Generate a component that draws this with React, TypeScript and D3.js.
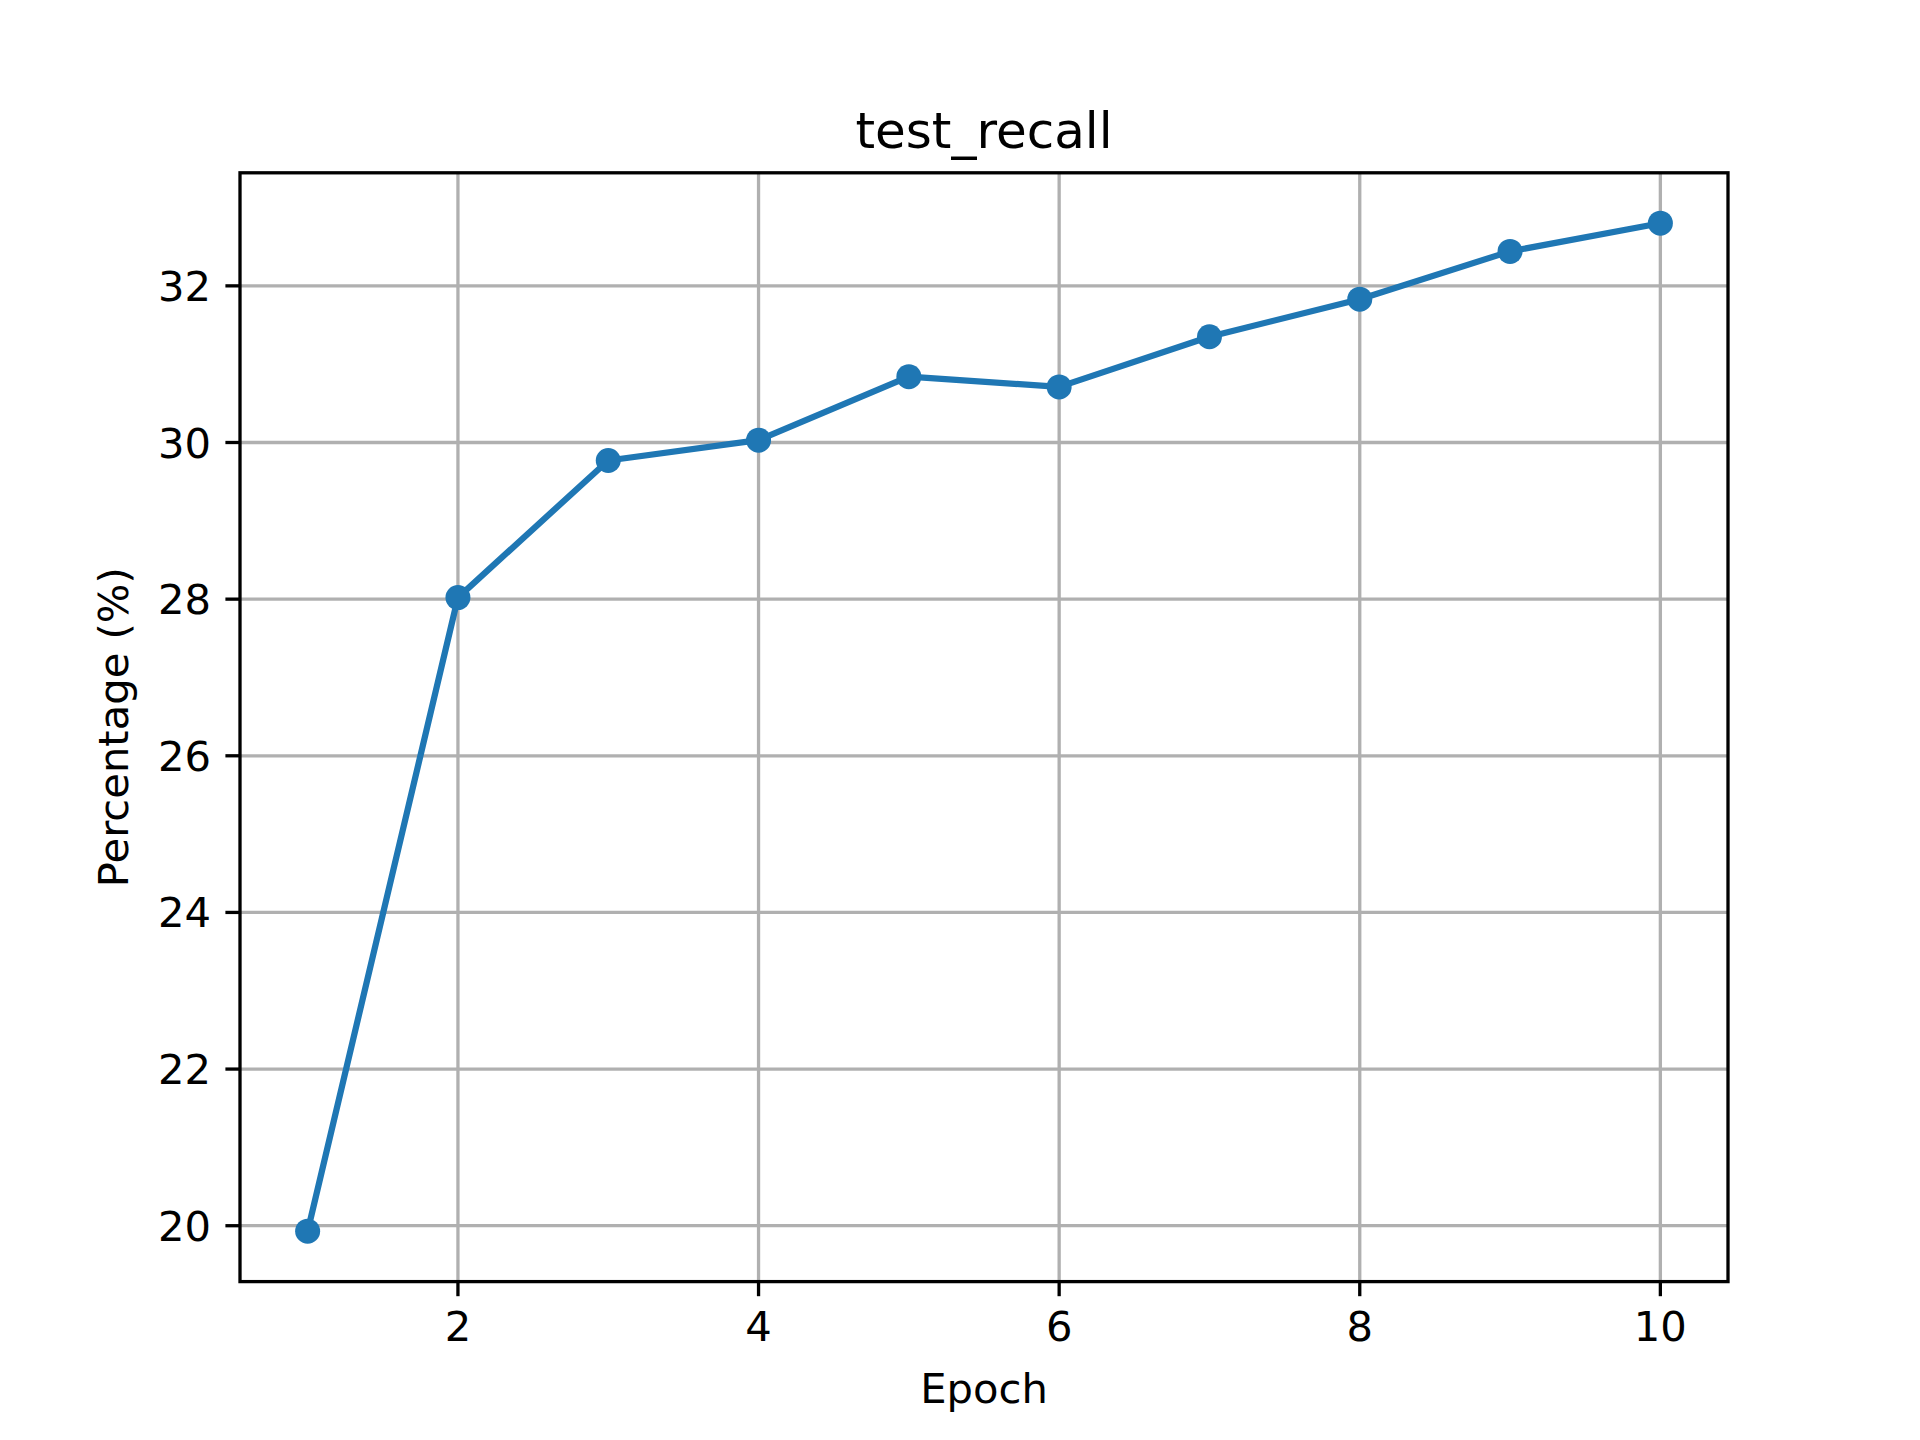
import * as d3 from 'd3';

const epochs = [1, 2, 3, 4, 5, 6, 7, 8, 9, 10];
const recall = [19.93, 28.02, 29.77, 30.03, 30.84, 30.71, 31.35, 31.83, 32.44, 32.8];
const xTicks = [2, 4, 6, 8, 10];
const yTicks = [20, 22, 24, 26, 28, 30, 32];

export default function App() {
  const W = 1920, H = 1440;
  const m = { left: 240, right: 1728, top: 172.8, bottom: 1281.6 };
  const font = 'DejaVu Sans, sans-serif';
  const fs = 41.7;

  const xPad = (10 - 1) * 0.05;
  const yMin = d3.min(recall)!, yMax = d3.max(recall)!;
  const yPad = (yMax - yMin) * 0.05;
  const x = d3.scaleLinear().domain([1 - xPad, 10 + xPad]).range([m.left, m.right]);
  const y = d3.scaleLinear().domain([yMin - yPad, yMax + yPad]).range([m.bottom, m.top]);

  const line = d3.line<number>().x((_, i) => x(epochs[i])).y(d => y(d));
  const pts = recall.map((v, i) => ({ x: epochs[i], v }));

  return (
    <svg width={W} height={H} style={{ display: 'block', margin: -8 }} fontFamily={font}>
      <rect width={W} height={H} fill="#fff" />
      {/* grid */}
      {xTicks.map(t => (
        <line key={'gx' + t} x1={x(t)} x2={x(t)} y1={m.top} y2={m.bottom} stroke="#b0b0b0" strokeWidth={3.3} />
      ))}
      {yTicks.map(t => (
        <line key={'gy' + t} x1={m.left} x2={m.right} y1={y(t)} y2={y(t)} stroke="#b0b0b0" strokeWidth={3.3} />
      ))}
      <path d={line(recall)!} fill="none" stroke="#1f77b4" strokeWidth={6.25} strokeLinejoin="round" />
      {pts.map(p => (
        <circle key={p.x} cx={x(p.x)} cy={y(p.v)} r={12.5} fill="#1f77b4" />
      ))}
      <rect x={m.left} y={m.top} width={m.right - m.left} height={m.bottom - m.top} fill="none" stroke="#000" strokeWidth={3.3} />
      {/* x ticks */}
      {xTicks.map(t => (
        <g key={'xt' + t}>
          <line x1={x(t)} x2={x(t)} y1={m.bottom} y2={m.bottom + 14.6} stroke="#000" strokeWidth={3.3} />
          <text x={x(t)} y={m.bottom + 29 + 30} textAnchor="middle" fontSize={fs}>{t}</text>
        </g>
      ))}
      {yTicks.map(t => (
        <g key={'yt' + t}>
          <line x1={m.left - 14.6} x2={m.left} y1={y(t)} y2={y(t)} stroke="#000" strokeWidth={3.3} />
          <text x={m.left - 29} y={y(t)} dy="0.36em" textAnchor="end" fontSize={fs}>{t}</text>
        </g>
      ))}
      <text x={(m.left + m.right) / 2} y={m.bottom + 29 + 30 + 62} textAnchor="middle" fontSize={fs}>Epoch</text>
      <text transform={`translate(${m.left - 112},${(m.top + m.bottom) / 2}) rotate(-90)`} textAnchor="middle" fontSize={fs}>Percentage (%)</text>
      <text x={(m.left + m.right) / 2} y={m.top - 25} textAnchor="middle" fontSize={50}>test_recall</text>
    </svg>
  );
}
